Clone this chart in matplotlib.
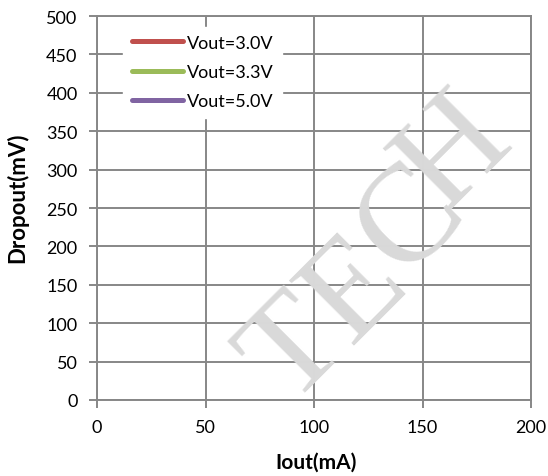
import matplotlib
matplotlib.use("Agg")
import matplotlib.pyplot as plt

# Data (no measured points visible in the reference)
series_names = ["Vout=3.0V", "Vout=3.3V", "Vout=5.0V"]
series_colors = ["#C0504D", "#9BBB59", "#8064A2"]
iout_30 = []
drop_30 = []
iout_33 = []
drop_33 = []
iout_50 = []
drop_50 = []
x_ticks = [0, 50, 100, 150, 200]
y_ticks = [0, 50, 100, 150, 200, 250, 300, 350, 400, 450, 500]

plt.rcParams['font.family'] = ['Lato', 'DejaVu Sans']

W, H = 548, 477
fig = plt.figure(figsize=(W/100, H/100), dpi=100)

# watermark letters (behind the chart)
wm_letters = ["T", "E", "C", "H"]
wm_centers = [(296, 352), (356, 292), (412, 222), (456, 154)]
for ch, (cx, cy) in zip(wm_letters, wm_centers):
    fig.text(cx/W, 1-cy/H, ch, fontsize=100, family='Liberation Serif',
             color='#d9d9d9', rotation=45, ha='center', va='center',
             rotation_mode='anchor', zorder=0)

ax = fig.add_axes([97/W, 1-401/H, (531-97)/W, (401-17)/H])
ax.patch.set_alpha(0)

xs = [iout_30, iout_33, iout_50]
ys = [drop_30, drop_33, drop_50]
for x, y, name, c in zip(xs, ys, series_names, series_colors):
    ax.plot(x, y, color=c, lw=3.6, solid_capstyle='round', label=name)

ax.set_xlim(0, 200)
ax.set_ylim(0, 500)
ax.set_xticks(x_ticks)
ax.set_yticks(y_ticks)
ax.grid(True, color="#878787", lw=1.4)
ax.set_axisbelow(True)
for s in ax.spines.values():
    s.set_color("#878787")
    s.set_linewidth(1.4)
ax.tick_params(axis='both', colors="#878787", length=6, width=1.4,
               labelcolor='black', labelsize=13)
ax.tick_params(axis='x', pad=8)
ax.tick_params(axis='y', pad=8)

ax.set_xlabel("Iout(mA)", fontsize=15, fontweight='bold', va='center')
ax.set_ylabel("Dropout(mV)", fontsize=16, fontweight='bold', va='center')
ax.xaxis.set_label_coords((316-97)/434, (401-463)/384)
ax.yaxis.set_label_coords((17-97)/434, (401-198)/384)

leg = ax.legend(loc='upper left', bbox_to_anchor=(0.04, 0.996), frameon=True,
                fontsize=13, handlelength=2.85, handletextpad=0.22,
                labelspacing=0.74, borderpad=0.45, fancybox=False)
leg.get_frame().set_edgecolor('white')
leg.get_frame().set_facecolor('white')
leg.get_frame().set_alpha(1)
for line in leg.get_lines():
    line.set_solid_capstyle('round')

fig.savefig("out.png", dpi=100)
